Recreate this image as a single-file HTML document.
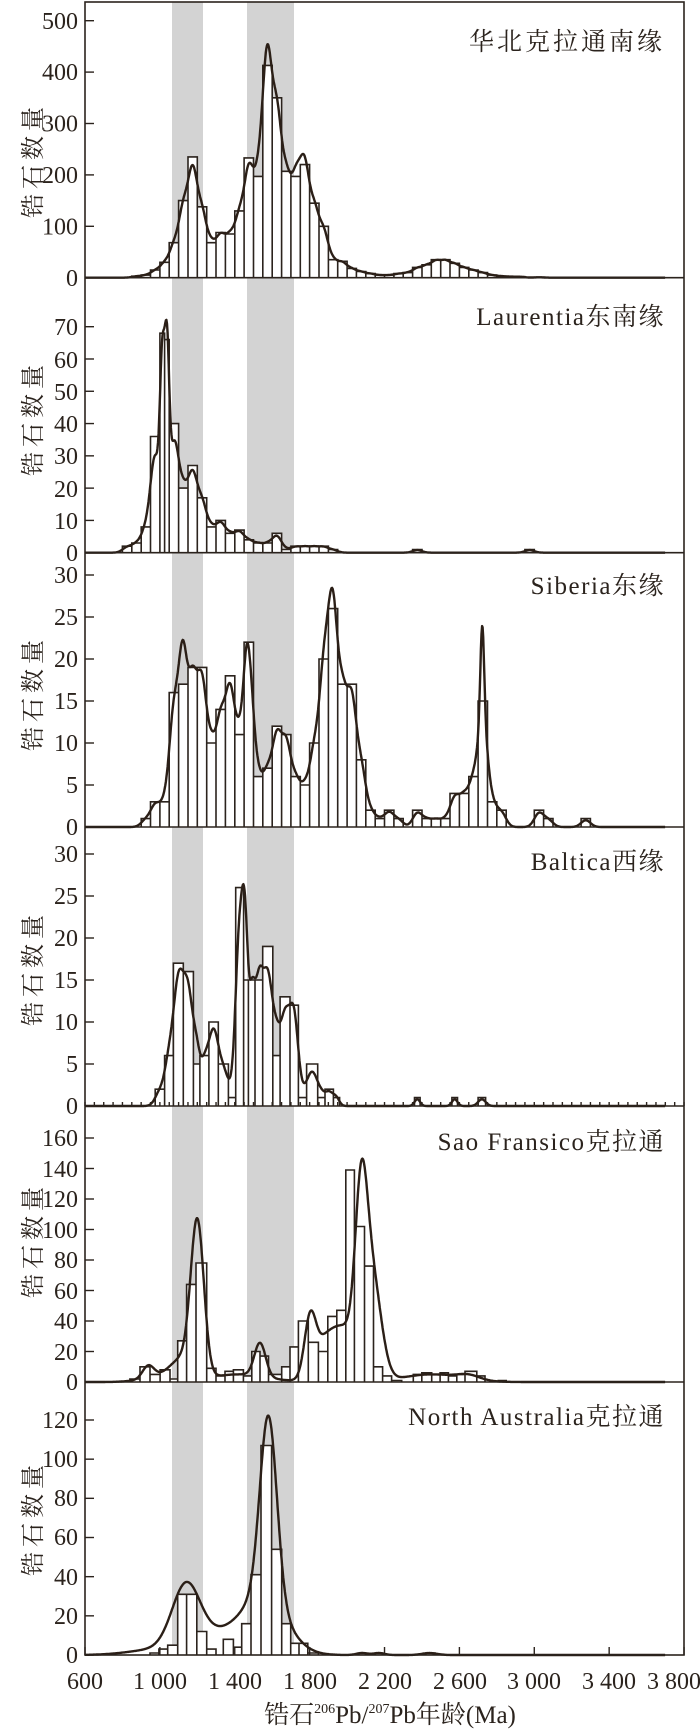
<!DOCTYPE html>
<html><head><meta charset="utf-8">
<style>
html,body{margin:0;padding:0;background:#fff;}
svg{display:block;}
text{font-family:"Liberation Serif","Noto Serif CJK SC","Noto Sans CJK SC",serif;fill:#2b231d;}
</style></head>
<body>
<svg id="s" width="700" height="1729" viewBox="0 0 700 1729" xmlns="http://www.w3.org/2000/svg">
<rect x="172" y="2" width="31" height="1653" fill="#d3d3d3"/>
<rect x="247" y="2" width="47" height="1653" fill="#d3d3d3"/>
<g id="plots"></g>
<g fill="none" stroke="#2b231d" stroke-width="1.6">
<rect x="85" y="2" width="599" height="1653"/>
<line x1="85" y1="277.7" x2="684" y2="277.7"/>
<line x1="85" y1="552.7" x2="684" y2="552.7"/>
<line x1="85" y1="827" x2="684" y2="827"/>
<line x1="85" y1="1106" x2="684" y2="1106"/>
<line x1="85" y1="1382" x2="684" y2="1382"/>
</g>
<g id="ticks" stroke="#2b231d" stroke-width="1.4"></g>
<g font-size="24" text-anchor="end">
<text x="78" y="286">0</text><text x="78" y="234.5">100</text><text x="78" y="183">200</text><text x="78" y="131.5">300</text><text x="78" y="80">400</text><text x="78" y="29">500</text>
<text x="78" y="561">0</text><text x="78" y="529">10</text><text x="78" y="497">20</text><text x="78" y="464">30</text><text x="78" y="432">40</text><text x="78" y="400">50</text><text x="78" y="368">60</text><text x="78" y="335">70</text>
<text x="78" y="835">0</text><text x="78" y="793">5</text><text x="78" y="751">10</text><text x="78" y="709">15</text><text x="78" y="667">20</text><text x="78" y="625">25</text><text x="78" y="583">30</text>
<text x="78" y="1114">0</text><text x="78" y="1072">5</text><text x="78" y="1030">10</text><text x="78" y="988">15</text><text x="78" y="946">20</text><text x="78" y="904">25</text><text x="78" y="862">30</text>
<text x="78" y="1390">0</text><text x="78" y="1360">20</text><text x="78" y="1329">40</text><text x="78" y="1299">60</text><text x="78" y="1268">80</text><text x="78" y="1238">100</text><text x="78" y="1207">120</text><text x="78" y="1177">140</text><text x="78" y="1146">160</text>
<text x="78" y="1663">0</text><text x="78" y="1624">20</text><text x="78" y="1585">40</text><text x="78" y="1545">60</text><text x="78" y="1506">80</text><text x="78" y="1467">100</text><text x="78" y="1428">120</text>
</g>
<g font-size="24" text-anchor="middle">
<text x="85" y="1689">600</text><text x="160" y="1689">1 000</text><text x="235" y="1689">1 400</text><text x="310" y="1689">1 800</text><text x="385" y="1689">2 200</text><text x="460" y="1689">2 600</text><text x="534" y="1689">3 000</text><text x="609" y="1689">3 400</text><text x="674" y="1689">3 800</text>
</g>
<text x="390" y="1723" font-size="25" text-anchor="middle">锆石<tspan font-size="14" dy="-10">206</tspan><tspan dy="10">Pb/</tspan><tspan font-size="14" dy="-10">207</tspan><tspan dy="10">Pb年龄(Ma)</tspan></text>
<g font-size="25" text-anchor="end" letter-spacing="1.5">
<text x="665" y="50" letter-spacing="3">华北克拉通南缘</text>
<text x="665" y="325">Laurentia东南缘</text>
<text x="665" y="594">Siberia东缘</text>
<text x="665" y="870">Baltica西缘</text>
<text x="665" y="1150">Sao  Fransico克拉通</text>
<text x="665" y="1425">North  Australia克拉通</text>
</g>
<g font-size="24" text-anchor="middle" letter-spacing="5">
<text transform="translate(41,160) rotate(-90)">锆石数量</text>
<text transform="translate(41,418) rotate(-90)">锆石数量</text>
<text transform="translate(41,693) rotate(-90)">锆石数量</text>
<text transform="translate(41,968) rotate(-90)">锆石数量</text>
<text transform="translate(41,1240) rotate(-90)">锆石数量</text>
<text transform="translate(41,1518) rotate(-90)">锆石数量</text>
</g>
</svg>
<script>
(function(){
var NS="http://www.w3.org/2000/svg";
var X=function(m){return 85+(m-600)*0.1872;};
function w50(o){var r=[];for(var k in o){var s=+k;r.push([s,s+50,o[k]]);}return r;}
var P=[
{z:277.7,s:257/500,auto:true,extra:[[1565,25,70],[1755,25,30]],
 bars:w50({850:3,900:5,950:15,1000:30,1050:68,1100:150,1150:235,1200:138,1250:68,1300:88,1350:85,1400:130,1450:233,1500:197,1550:413,1600:350,1650:207,1700:197,1750:220,1800:145,1850:100,1900:35,1950:32,2000:18,2050:12,2100:8,2150:5,2200:5,2250:8,2300:10,2350:20,2400:25,2450:35,2500:35,2550:28,2600:20,2650:15,2700:10,2750:5,2800:3,2850:2,2900:2,3000:1})},
{z:552.7,s:226/70,auto:true,extra:[[1012,12,-6]],
 bars:[[800,850,2],[850,900,3],[900,950,8],[950,1000,36],[1000,1025,68],[1025,1050,66],[1050,1100,40],[1100,1150,20],[1150,1200,27],[1200,1250,17],[1250,1300,8],[1300,1350,10],[1350,1400,6],[1400,1450,7],[1450,1500,4],[1500,1550,3],[1550,1600,3],[1600,1650,6],[1650,1700,1],[1700,1750,2],[1750,1800,2],[1800,1850,2],[1850,1900,2],[1900,1950,1],[2350,2400,1],[2950,3000,1]]},
{z:827,s:252/30,auto:true,extra:[[2722,10,11],[1910,25,4],[1120,20,5],[1460,15,3]],
 bars:w50({900:1,950:3,1000:3,1050:16,1100:17,1150:19,1200:19,1250:10,1300:14,1350:18,1400:11,1450:22,1500:6,1550:7,1600:12,1650:11,1700:6,1750:5,1800:10,1850:20,1900:26,1950:17,2000:17,2050:8,2100:2,2150:1,2200:2,2250:1,2350:2,2400:1,2450:1,2500:1,2550:4,2600:4,2650:6,2700:15,2750:3,2800:2,3000:2,3050:1,3250:1})},
{z:1106,s:252/30,auto:true,extra:[[1445,12,6]],
 bars:[[975,1025,2],[1025,1072,6],[1072,1125,17],[1125,1179,16],[1179,1214,5],[1214,1262,6],[1262,1312,10],[1312,1366,5],[1366,1405,1],[1405,1447,26],[1447,1473,15],[1473,1508,15],[1508,1549,15],[1549,1603,19],[1603,1642,6],[1642,1695,13],[1695,1740,12],[1740,1784,1],[1784,1843,5],[1843,1882,1],[1882,1927,2],[1927,1960,1],[2360,2390,1],[2560,2590,1],[2700,2740,1]]},
{z:1382,s:244/160,auto:false,
 comps:[[938,30,8],[1020,100,4],[1200,35,100],[1120,60,12],[1535,30,22],[1420,150,5],[1802,30,35],[1880,60,25],[2075,32,95],[2130,50,70],[1990,60,30],[2450,150,5],[2650,60,3]],
 bars:[[840,894,2],[894,947,10],[947,1001,5],[1001,1054,8],[1054,1095,2],[1095,1143,27],[1143,1193,64],[1193,1250,78],[1250,1300,9],[1300,1348,4],[1348,1393,7],[1393,1446,8],[1446,1491,4],[1491,1535,20],[1535,1580,17],[1580,1651,5],[1651,1695,10],[1695,1740,23],[1740,1793,40],[1793,1847,26],[1847,1897,20],[1897,1945,43],[1945,1993,47],[1993,2039,139],[2039,2093,102],[2093,2141,76],[2141,2190,10],[2190,2238,4],[2238,2292,1],[2354,2399,5],[2399,2452,6],[2452,2497,5],[2497,2541,6],[2541,2586,4],[2586,2630,5],[2630,2693,7],[2693,2737,4],[2808,2850,1]]},
{z:1655,s:235/120,auto:false,
 comps:[[1140,75,33],[1580,45,93],[1550,120,30],[1000,150,3],[1300,100,8],[2080,30,1],[2170,30,1],[2440,40,1]],
 bars:[[947,995,1],[995,1042,3],[1042,1095,5],[1095,1143,31],[1143,1197,31],[1197,1250,12],[1250,1300,3],[1339,1393,8],[1393,1437,4],[1437,1487,16],[1487,1540,41],[1540,1597,107],[1597,1651,54],[1651,1699,16],[1699,1743,6],[1743,1790,6],[1790,1847,1],[2060,2100,1],[2150,2190,1],[2420,2470,1]]}
];
var g=document.getElementById("plots");
P.forEach(function(p){
  var d="";
  p.bars.forEach(function(b){
    var x1=X(b[0]),x2=X(b[1]),y=p.z-b[2]*p.s;
    d+="M"+x1.toFixed(1)+" "+p.z+"V"+y.toFixed(1)+"H"+x2.toFixed(1)+"V"+p.z;
    var r=document.createElementNS(NS,"rect");
    r.setAttribute("x",x1);r.setAttribute("y",y);r.setAttribute("width",x2-x1);r.setAttribute("height",p.z-y);
    r.setAttribute("fill","#fff");g.appendChild(r);
  });
  var pa=document.createElementNS(NS,"path");
  pa.setAttribute("d",d);pa.setAttribute("fill","none");pa.setAttribute("stroke","#2b231d");pa.setAttribute("stroke-width","1.6");
  g.appendChild(pa);
  var comps=p.auto?p.bars.map(function(b){return [(b[0]+b[1])/2,(b[1]-b[0])*0.5,b[2]*0.8];}).concat(p.extra):p.comps;
  var c="";
  for(var m=600;m<=3700;m+=3){
    var v=0;comps.forEach(function(k){var t=(m-k[0])/k[1];v+=k[2]*Math.exp(-t*t/2);});
    if(v<0)v=0;
    c+=(m==600?"M":"L")+X(m).toFixed(1)+" "+(p.z-v*p.s).toFixed(1);
  }
  var cp=document.createElementNS(NS,"path");
  cp.setAttribute("d",c);cp.setAttribute("fill","none");cp.setAttribute("stroke","#2b1f17");cp.setAttribute("stroke-width","2.4");cp.setAttribute("stroke-linejoin","round");
  g.appendChild(cp);
});
var t=document.getElementById("ticks"),h="";
var Y=[[277.7,257/500,100,500],[552.7,226/70,10,70],[827,252/30,5,30],[1106,252/30,5,30],[1382,244/160,20,160],[1655,235/120,20,120]];
Y.forEach(function(a){for(var v=0;v<=a[3];v+=a[2]){var y=a[0]-v*a[1];h+='<line x1="85" x2="94" y1="'+y+'" y2="'+y+'"/>';}});
for(var m=600;m<=3800;m+=400){var x=X(m);h+='<line x1="'+x+'" x2="'+x+'" y1="1655" y2="1647"/>';}
for(var m=600;m<=3800;m+=50){var x=X(m);h+='<line x1="'+x+'" x2="'+x+'" y1="1106" y2="1102"/>';}
t.innerHTML=h;
})();
</script>
</body></html>
